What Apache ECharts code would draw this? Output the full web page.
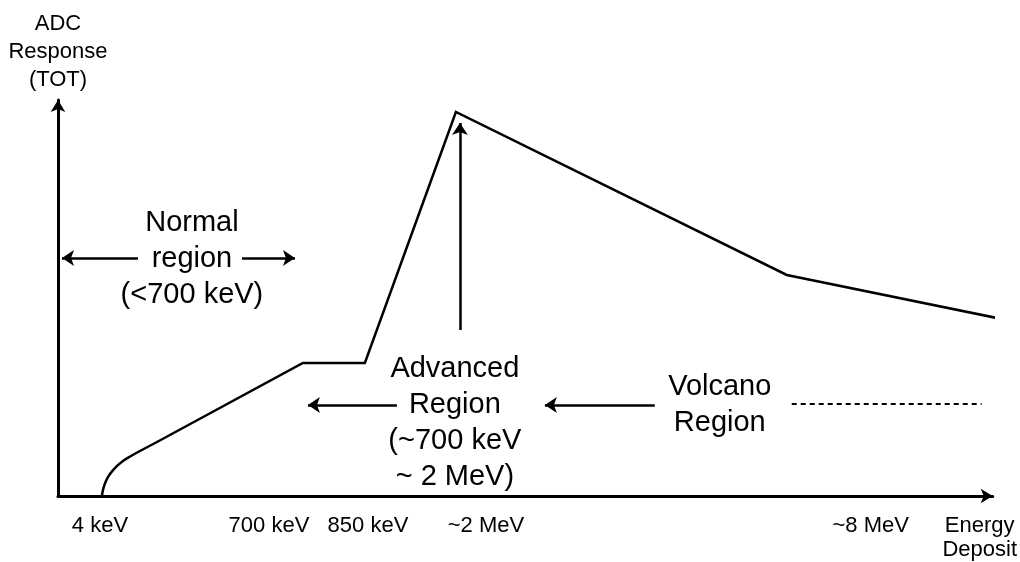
<!DOCTYPE html>
<html>
<head>
<meta charset="utf-8">
<script src="https://cdn.jsdelivr.net/npm/echarts@6/dist/echarts.min.js"></script>
<style>html,body{margin:0;padding:0;background:#fff}#c{width:1020px;height:562px}</style>
</head>
<body>
<div id="c"></div>
<script>
// Response curve (abstract units: x 0..100 energy axis, y 0..100 response axis)
// first 9 points: the rounded onset near threshold; the rest: straight segments
const curveX = [4.71, 4.81, 5.13, 5.56, 6.20, 6.95, 7.81, 8.77, 10.59, 26.20, 32.83, 42.57, 77.97, 100.43];
const curveY = [0, 1.52, 3.79, 5.56, 7.32, 8.84, 10.10, 11.36, 13.64, 33.59, 33.59, 96.97, 55.81, 44.95];
const onsetCount = 9;

// x-axis tick labels
const tickValues = [4.49, 22.57, 33.16, 45.78, 86.95, 98.61];
const tickLabels = ['4 keV', '700 keV', '850 keV', '~2 MeV', '~8 MeV', 'Energy\nDeposit'];

// annotation arrows: from (x, y) to (x, y)
const arrowFromX = [8.56, 19.68, 43.00, 36.26, 63.85];
const arrowFromY = [60.10, 60.10, 41.92, 22.98, 22.98];
const arrowToX = [0.43, 25.35, 43.00, 26.74, 52.09];
const arrowToY = [60.10, 60.10, 94.19, 22.98, 22.98];

// dashed continuation line
const dashX = [78.50, 98.82];
const dashY = [23.23, 23.23];

// region labels
const regionText = ['Normal\nregion\n(<700 keV)', 'Advanced\nRegion\n(~700 keV\n~ 2 MeV)', 'Volcano\nRegion'];
const regionX = [14.33, 42.46, 70.80];
const regionY = [59.85, 18.43, 22.98];

const FONT = '"Liberation Sans", Arial, Helvetica, sans-serif';
const chart = echarts.init(document.getElementById('c'), null, {renderer: 'canvas'});

const curveData = curveX.map((x, i) => [x, curveY[i]]);
const onsetData = curveData.slice(0, onsetCount);
const mainData = curveData.slice(onsetCount - 1);
const arrowData = arrowFromX.map((x, i) => ({coords: [[x, arrowFromY[i]], [arrowToX[i], arrowToY[i]]]}));
const textData = regionText.map((t, i) => ({name: t, value: [regionX[i], regionY[i]]}));

chart.setOption({
  animation: false,
  backgroundColor: '#fff',
  textStyle: {fontFamily: FONT},
  grid: {left: 58, right: 27, top: 100, bottom: 66, containLabel: false},
  xAxis: {
    type: 'value', min: 0, max: 100,
    splitLine: {show: false},
    axisTick: {show: false},
    axisLine: {show: true, symbol: ['none', 'arrow'], symbolSize: [11, 12], lineStyle: {color: '#000', width: 3}},
    axisLabel: {
      show: true, customValues: tickValues, margin: 18,
      color: '#000', fontSize: 22, lineHeight: 24, fontFamily: FONT,
      formatter: function (v) {
        let best = 0;
        tickValues.forEach((t, i) => { if (Math.abs(t - v) < Math.abs(tickValues[best] - v)) best = i; });
        return tickLabels[best];
      }
    }
  },
  yAxis: {
    type: 'value', min: 0, max: 100,
    splitLine: {show: false},
    axisTick: {show: false},
    axisLabel: {show: false},
    axisLine: {show: true, symbol: ['none', 'arrow'], symbolSize: [11, 12], lineStyle: {color: '#000', width: 3}},
    name: 'ADC\nResponse\n(TOT)',
    nameLocation: 'end',
    nameGap: 6.5,
    nameTextStyle: {color: '#000', fontSize: 22, lineHeight: 28, fontFamily: FONT, align: 'center'}
  },
  series: [
    {
      type: 'line', data: onsetData, showSymbol: false, symbol: 'none', clip: false, smooth: 0.5,
      lineStyle: {color: '#000', width: 2.5, cap: 'round'}
    },
    {
      type: 'line', data: mainData, showSymbol: false, symbol: 'none', clip: false,
      lineStyle: {color: '#000', width: 2.5, join: 'miter'}
    },
    {
      type: 'lines', coordinateSystem: 'cartesian2d', data: arrowData,
      symbol: ['none', 'arrow'], symbolSize: [10, 12],
      lineStyle: {color: '#000', width: 2.5, curveness: 0, opacity: 1},
      itemStyle: {color: '#000'}
    },
    {
      type: 'lines', coordinateSystem: 'cartesian2d',
      data: [{coords: [[dashX[0], dashY[0]], [dashX[1], dashY[1]]]}],
      symbol: ['none', 'none'],
      lineStyle: {color: '#000', width: 2, type: [5, 4], curveness: 0, opacity: 1}
    },
    {
      type: 'scatter', data: textData, symbolSize: 1,
      itemStyle: {color: 'rgba(0,0,0,0)'},
      label: {
        show: true, position: 'inside', formatter: '{b}', opacity: 1,
        color: '#000', textBorderWidth: 0, fontSize: 29, lineHeight: 36, fontFamily: FONT,
        align: 'center', verticalAlign: 'middle'
      },
      emphasis: {disabled: true},
      silent: true
    }
  ]
});
</script>
</body>
</html>
